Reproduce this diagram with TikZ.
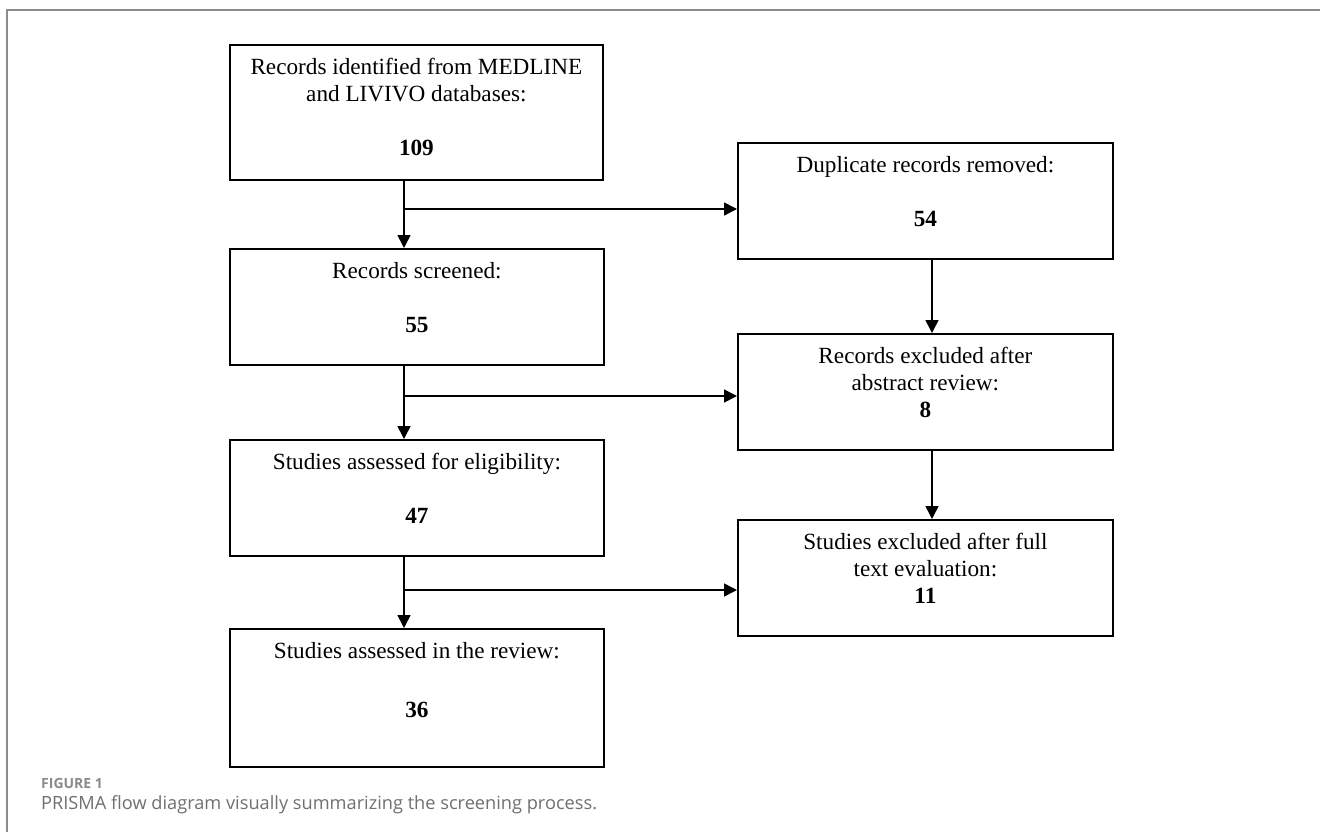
\documentclass[tikz,border=0pt]{standalone}
\usepackage{fontspec}
\setmainfont{Liberation Serif}
\newfontfamily\capfont{Open Sans}
\usetikzlibrary{arrows.meta}
\newcommand{\boxtext}[3]{\begin{minipage}[c][#2pt][t]{#1pt}\centering\rule{0pt}{30pt}#3\end{minipage}}
\definecolor{framegray}{HTML}{8C8C8C}
\definecolor{capgray}{HTML}{707070}
\definecolor{figgray}{HTML}{8A8A8A}
\begin{document}
\begin{tikzpicture}[x=1pt,y=-1pt,
  box/.style={draw, line width=1.8pt, inner sep=0pt, anchor=north west, font=\fontsize{23.2}{27}\selectfont},
  arr/.style={line width=1.6pt, -{Triangle[width=13pt,length=13pt]}},
  frame/.style={draw=framegray, line width=2pt},
]
\useasboundingbox (0,0) rectangle (1320,836);
\fill[white] (0,0) rectangle (1320,836);
\draw[frame] (7,832) -- (7,10) -- (1320,10);

% left column
\node[box] (b1) at (229,44) {\boxtext{373}{135}{Records identified from MEDLINE\\and LIVIVO databases:\\[27pt]\textbf{109}}};
\node[box] (b2) at (229,248) {\boxtext{374}{116}{Records screened:\\[27pt]\textbf{55}}};
\node[box] (b3) at (229,439) {\boxtext{374}{116}{Studies assessed for eligibility:\\[27pt]\textbf{47}}};
\node[box] (b4) at (229,628) {\boxtext{374}{138}{Studies assessed in the review:\\[32pt]\textbf{36}}};

% right column
\node[box] (r1) at (737,142) {\boxtext{375}{116}{Duplicate records removed:\\[27pt]\textbf{54}}};
\node[box] (r2) at (737,333) {\boxtext{375}{116}{Records excluded after\\abstract review:\\\textbf{8}}};
\node[box] (r3) at (737,519) {\boxtext{375}{116}{Studies excluded after full\\text evaluation:\\\textbf{11}}};

\coordinate (lx) at (404,0);
\coordinate (rx) at (932,0);
\coordinate (j1) at (404,209);
\coordinate (j2) at (404,396);
\coordinate (j3) at (404,590);

\draw[arr] (b1.south -| lx) -- (b2.north -| lx);
\draw[arr] (b2.south -| lx) -- (b3.north -| lx);
\draw[arr] (b3.south -| lx) -- (b4.north -| lx);
\draw[arr] (j1) -- (j1 -| r1.west);
\draw[arr] (j2) -- (j2 -| r2.west);
\draw[arr] (j3) -- (j3 -| r3.west);
\draw[arr] (r1.south -| rx) -- (r2.north -| rx);
\draw[arr] (r2.south -| rx) -- (r3.north -| rx);

% caption
\node[anchor=base west, inner sep=0pt, text=figgray, font=\capfont\bfseries\fontsize{14}{17}\selectfont] (fig) at (41,788) {FIGURE 1};
\node[anchor=base west, inner sep=0pt, text=capgray, font=\capfont\fontsize{18.2}{22}\selectfont] (cap) at (41,809) {PRISMA flow diagram visually summarizing the screening process.};
\end{tikzpicture}
\end{document}
